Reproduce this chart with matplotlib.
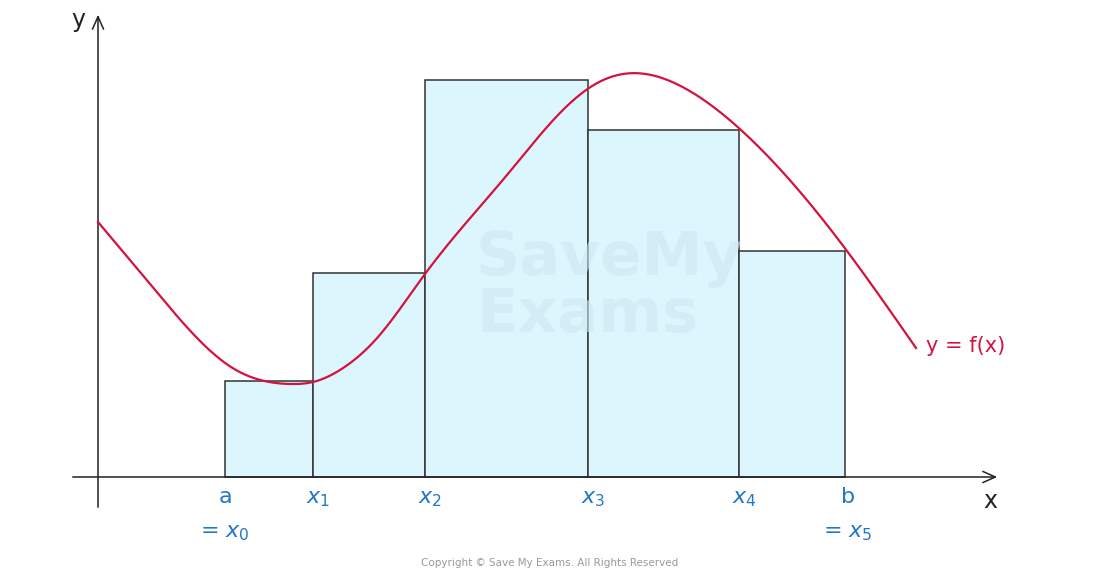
import numpy as np
import matplotlib.pyplot as plt

# values in chart units (pixels from origin, y up)
edges = [127, 215, 327, 490, 641, 747]
heights = [96, 204, 397, 347, 226]
curve_x = [0, 57, 101, 133, 193, 215, 242, 280, 327, 409, 460, 491, 525, 590, 643, 749, 818]
curve_y = [255, 187, 137, 110, 93, 95, 107, 140, 203, 302, 362, 389, 403, 387, 347, 226, 129]
labels = ["$x_1$", "$x_2$", "$x_3$", "$x_4$"]

ox, oy = 98, 477
blue = "#1f78c8"
red = "#d4123e"


def natural_spline(x, y, n=600):
    x = np.asarray(x, float)
    y = np.asarray(y, float)
    k = len(x)
    h = np.diff(x)
    A = np.zeros((k, k))
    r = np.zeros(k)
    A[0, 0] = A[-1, -1] = 1
    for i in range(1, k - 1):
        A[i, i - 1] = h[i - 1]
        A[i, i] = 2 * (h[i - 1] + h[i])
        A[i, i + 1] = h[i]
        r[i] = 6 * ((y[i + 1] - y[i]) / h[i] - (y[i] - y[i - 1]) / h[i - 1])
    m = np.linalg.solve(A, r)
    xs = np.linspace(x[0], x[-1], n)
    j = np.clip(np.searchsorted(x, xs) - 1, 0, k - 2)
    t = xs - x[j]
    hj = h[j]
    b = (y[j + 1] - y[j]) / hj - hj * (2 * m[j] + m[j + 1]) / 6
    ys = y[j] + b * t + m[j] / 2 * t ** 2 + (m[j + 1] - m[j]) / (6 * hj) * t ** 3
    return xs, ys


fig = plt.figure(figsize=(10.94, 5.75), dpi=100)
ax = fig.add_axes([0, 0, 1, 1])
ax.set_xlim(-ox, 1094 - ox)
ax.set_ylim(oy - 575, oy)
ax.axis("off")

for i, h in enumerate(heights):
    ax.bar(edges[i], h, width=edges[i + 1] - edges[i], align="edge",
           color="#dbf6fc", edgecolor="#333333", linewidth=1.1, zorder=1)

# watermark
ax.text(378, 190, "SaveMy\nExams", fontsize=44, fontweight="bold", color="#cfe8f2",
        ha="left", va="center", linespacing=0.95, zorder=1.5, alpha=0.6)

cx, cy = natural_spline(curve_x, curve_y)
ax.plot(cx, cy, color=red, lw=1.6, zorder=4)

arrow = dict(arrowstyle="->,head_length=0.9,head_width=0.4", color="#222222", lw=1.1)
ax.annotate("", xy=(902, 0), xytext=(-28, 0), arrowprops=arrow)
ax.annotate("", xy=(0, 465), xytext=(0, -33), arrowprops=arrow)

ax.text(-20, 457, "y", fontsize=17, ha="center", va="center", color="#222222")
ax.text(892, -24, "x", fontsize=17, ha="center", va="center", color="#222222")
ax.text(828, 131, "y = f(x)", fontsize=15, ha="left", va="center", color=red)

ax.text(edges[0], -20, "a", fontsize=16, ha="center", va="center", color=blue)
ax.text(edges[0], -56, "= $x_0$", fontsize=16, ha="center", va="center", color=blue)
for e, lab in zip(edges[1:5], labels):
    ax.text(e + 5, -22, lab, fontsize=16, ha="center", va="center", color=blue)
ax.text(edges[5] + 3, -20, "b", fontsize=16, ha="center", va="center", color=blue)
ax.text(edges[5] + 3, -56, "= $x_5$", fontsize=16, ha="center", va="center", color=blue)

ax.text(550 - ox, -86, "Copyright © Save My Exams. All Rights Reserved", fontsize=7.5,
        ha="center", va="center", color="#999999")

fig.savefig("out.png", dpi=100)
